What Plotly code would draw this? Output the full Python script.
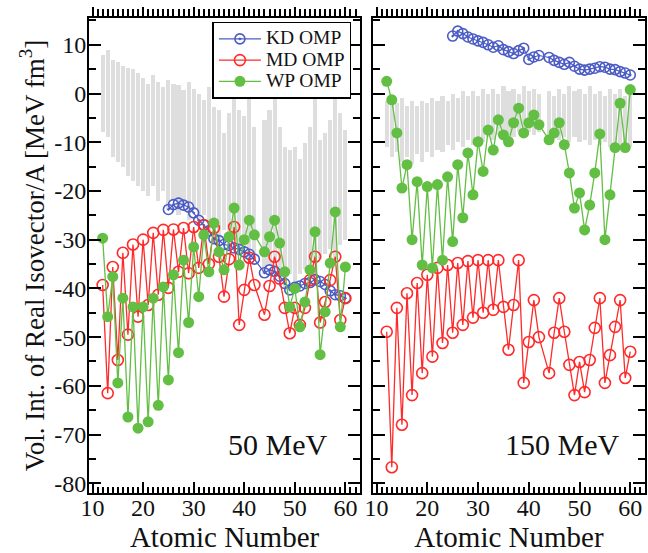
import plotly.graph_objects as go

FONT = "Liberation Serif, Times New Roman, Times, serif"
INK = "#111111"

# Nuclei (Tc, Z=43, is not included)
atomic_number = [12, 13, 14, 15, 16, 17, 18, 19, 20, 21, 22, 23, 24, 25, 26, 27,
                 28, 29, 30, 31, 32, 33, 34, 35, 36, 37, 38, 39, 40, 41, 42,
                 44, 45, 46, 47, 48, 49, 50, 51, 52, 53, 54, 55, 56, 57, 58, 59, 60]
kd_atomic_number = [25, 26, 27, 28, 29, 30, 31, 32, 33, 34, 35, 36, 37, 38, 39, 40, 41, 42,
                    44, 45, 46, 47, 48, 49, 50, 51, 52, 53, 54, 55, 56, 57, 58, 59, 60]

# 50 MeV
band_top_50 = [7.9, 9.0, 6.9, 6.5, 5.7, 5.3, 5.0, 4.2, 3.2, 2.0,
               3.8, 2.4, 1.4, 2.8, 2.0, 1.8, 0.8, 2.4, 1.0, -0.1,
               -1.3, 1.4, -2.7, -3.4, -8.1, -4.0, 0.8, -3.4, -4.7, -1.0,
               -6.8, -5.4, -3.4, -0.6, -6.8, -10.9, -11.6, -10.9, -13.5, -10.2,
               -6.8, 0.8, -9.5, -8.1, -5.4, 0.8, -4.0, -7.5]
band_bottom_50 = [-8, -9, -13, -14, -15, -17, -18, -19, -20, -21,
                  -19, -22, -20, -24, -22, -25, -23, -26, -24, -27,
                  -25, -28, -27, -30, -28, -32, -30, -33, -32, -35,
                  -34, -37, -35, -36, -38, -40, -37, -39, -37, -36,
                  -35, -38, -34, -33, -32, -34, -31, -30]
kd_50 = [-23.8, -22.8, -22.5, -22.9, -23.3, -24.5, -26.0, -27.0, -28.2, -29.8,
         -30.2, -31.0, -31.2, -31.7, -32.0, -32.5, -33.0, -34.0,
         -36.8, -36.2, -36.5, -37.5, -39.0, -40.3, -39.8, -39.5, -39.0, -38.8,
         -38.2, -38.6, -39.2, -40.5, -41.3, -41.5, -42.0]
md_50 = [-39.3, -61.5, -35.6, -54.7, -32.7, -49.5, -31.0, -45.8, -30.0, -43.4,
         -28.6, -41.3, -28.0, -39.9, -27.9, -36.6, -27.6, -36.9, -27.4, -35.8,
         -27.0, -35.0, -27.6, -33.5, -41.7, -34.0, -27.4, -47.5, -40.3, -33.7,
         -39.3, -45.4, -39.5, -33.5, -38.0, -44.0, -49.2, -44.0, -47.5, -44.0,
         -38.3, -33.5, -47.0, -42.8, -38.3, -33.5, -46.5, -42.0]
wp_50 = [-29.7, -45.8, -37.6, -59.4, -42.0, -66.4, -43.8, -68.7, -43.8, -67.4,
         -42.0, -64.0, -39.7, -58.8, -37.2, -53.2, -34.2, -47.0, -31.5, -41.7,
         -29.0, -36.6, -26.6, -32.5, -36.2, -29.4, -23.5, -35.2, -30.0, -26.0,
         -29.0, -32.5, -29.4, -26.0, -30.7, -36.6, -43.8, -40.0, -47.9, -42.8,
         -36.2, -28.4, -53.6, -44.8, -34.8, -24.3, -47.9, -35.6]

# 150 MeV
band_top_150 = [-1.5, -0.5, -2, -1, -2.5, -1.5, -2.5, -1.5, -2, -1,
                -1.5, -0.5, -1.5, 0, -1, 0.5, -0.5, 0.5, -0.5, 1,
                0, 1, 0, 1.5, 0.5, 1, 0, 1.5, 0.5, 1.0,
                0, 0.5, -0.5, 1, 0, 1.5, 0.5, 1, 0, 1.5,
                0, 0.5, -0.5, 1, 0, 1, -0.5, 0.5]
band_bottom_150 = [-11, -13, -12, -14, -13, -14.5, -12.5, -14, -12, -13,
                   -11.5, -12, -10.5, -11.5, -10, -11, -9.5, -10.5, -9, -10,
                   -9, -9.5, -8.5, -9.5, -8.5, -9, -8, -9, -8, -8.5,
                   -8, -9, -8.5, -9.5, -9, -10, -9, -10, -9.5, -10.5,
                   -9.5, -10.5, -10, -11, -10, -11, -10.5, -11]
kd_150 = [11.8, 12.8, 12.3, 11.6, 11.2, 10.8, 10.5, 10.0, 9.5, 9.8,
          9.0, 8.6, 8.2, 8.8, 9.3, 7.0, 7.5, 7.8,
          7.4, 6.8, 6.4, 6.0, 6.4, 5.6, 5.0, 4.8, 5.0, 5.2, 5.5, 5.4,
          5.0, 4.9, 4.5, 4.2, 3.8]
md_150 = [-48.9, -76.7, -44.0, -68.0, -41.0, -61.9, -38.9, -57.4, -37.2, -54.0,
          -35.8, -51.2, -35.2, -49.1, -34.8, -47.5, -34.4, -46.0, -34.2, -45.0,
          -34.2, -44.4, -34.2, -43.8, -52.6, -43.4, -34.2, -59.4, -51.0, -42.4,
          -50.0, -57.4, -49.1, -42.0, -48.9, -55.7, -61.9, -55.1, -61.3, -54.7,
          -48.1, -42.0, -59.4, -53.7, -47.9, -42.4, -58.4, -53.0]
wp_150 = [2.5, -1.3, -8.1, -19.4, -14.6, -30.0, -18.1, -35.2, -19.1, -35.8,
          -18.7, -34.2, -17.1, -30.4, -14.6, -25.5, -12.2, -20.8, -9.9, -16.0,
          -7.5, -11.6, -5.4, -8.5, -9.9, -6.0, -3.0, -8.1, -6.0, -4.4,
          -6.4, -9.5, -8.1, -6.0, -10.5, -16.3, -23.5, -20.4, -28.0, -22.9,
          -16.3, -8.3, -30.0, -20.8, -11.1, -2.0, -11.1, 0.8]

x_tick_values = [10, 20, 30, 40, 50, 60]
x_tick_labels = ["10", "20", "30", "40", "50", "60"]
y_tick_values = [10, 0, -10, -20, -30, -40, -50, -60, -70, -80]
y_tick_labels = ["10", "0", "-10", "-20", "-30", "-40", "-50", "-60", "-70", "-80"]
energy_labels = ["50 MeV", "150 MeV"]
series_names = ["KD OMP", "MD OMP", "WP OMP"]

KD_COLOR = "#4b5cc4"
MD_COLOR = "#ff2a2a"
WP_COLOR = "#62bf43"
BAND_COLOR = "#dedede"

X_RANGE = [9.3, 62.9]
Y_RANGE = [-82, 15.5]


def legend_label(name):
    # larger glyphs than the legend's base size keep the entries compact
    return '<span style="font-size:19.5px">' + name + "</span>"


fig = go.Figure()

# Each panel: the grey band sits on the base x axis, the model curves on the
# overlaid top axis so they are drawn above the band.
panels = [
    ("x", "x3", "y", band_top_50, band_bottom_50, kd_50, md_50, wp_50, True),
    ("x2", "x4", "y2", band_top_150, band_bottom_150, kd_150, md_150, wp_150, False),
]

for xa, xtop, ya, top, bottom, kd, md, wp, first in panels:
    fig.add_trace(go.Bar(
        x=atomic_number, y=[t - b for t, b in zip(top, bottom)], base=bottom,
        width=0.82, marker=dict(color=BAND_COLOR, line=dict(width=0)),
        showlegend=False, xaxis=xa, yaxis=ya, hoverinfo="skip"))
    fig.add_trace(go.Scatter(
        x=kd_atomic_number, y=kd, mode="lines+markers",
        name=legend_label(series_names[0]),
        line=dict(color=KD_COLOR, width=1.2),
        marker=dict(symbol="circle-open-dot", size=10, color=KD_COLOR,
                    line=dict(width=1.6, color=KD_COLOR)),
        showlegend=first, xaxis=xtop, yaxis=ya))
    fig.add_trace(go.Scatter(
        x=atomic_number, y=md, mode="lines+markers",
        name=legend_label(series_names[1]),
        line=dict(color=MD_COLOR, width=1.3),
        marker=dict(symbol="circle-open", size=11, color=MD_COLOR,
                    line=dict(width=1.6, color=MD_COLOR)),
        showlegend=first, xaxis=xtop, yaxis=ya))
    fig.add_trace(go.Scatter(
        x=atomic_number, y=wp, mode="lines+markers",
        name=legend_label(series_names[2]),
        line=dict(color=WP_COLOR, width=1.3),
        marker=dict(symbol="circle", size=11, color=WP_COLOR),
        showlegend=first, xaxis=xtop, yaxis=ya))

tick_font = dict(family=FONT, size=24, color=INK)


def x_axis(domain, anchor, title):
    return dict(
        domain=domain, anchor=anchor, range=X_RANGE,
        tickmode="array", tickvals=x_tick_values, ticktext=x_tick_labels,
        ticks="inside", ticklen=11, tickwidth=2, tickcolor="black",
        minor=dict(tickmode="linear", tick0=10, dtick=1, ticks="inside",
                   ticklen=6, tickwidth=1.5, tickcolor="black"),
        showline=True, linewidth=2, linecolor="black", mirror=True,
        showgrid=False, zeroline=False, tickfont=tick_font,
        ticklabelstandoff=-8,
        title=dict(text=title, font=dict(family=FONT, size=29, color=INK), standoff=0),
    )


def top_axis(overlay, anchor):
    return dict(
        overlaying=overlay, anchor=anchor, side="top", range=X_RANGE,
        tickmode="linear", tick0=10, dtick=10,
        ticks="outside", ticklen=10, tickwidth=2, tickcolor="black",
        minor=dict(tickmode="linear", tick0=10, dtick=1, ticks="outside",
                   ticklen=8, tickwidth=1.5, tickcolor="black"),
        showticklabels=False, showline=False, showgrid=False, zeroline=False,
    )


def y_axis(anchor, labels, title=None):
    d = dict(
        anchor=anchor, range=Y_RANGE,
        tickmode="array", tickvals=y_tick_values, ticktext=y_tick_labels,
        ticks="inside", ticklen=12, tickwidth=2, tickcolor="black",
        minor=dict(tickmode="linear", tick0=0, dtick=5, ticks="inside",
                   ticklen=7, tickwidth=2, tickcolor="black"),
        showline=True, linewidth=2, linecolor="black", mirror="ticks",
        showgrid=False, zeroline=False, tickfont=tick_font,
        showticklabels=labels, ticklabelstandoff=-4,
    )
    if title:
        d["title"] = dict(text=title, font=dict(family=FONT, size=27, color=INK), standoff=2)
    return d


left_dom = [0.0, 0.4875]
right_dom = [0.5108, 1.0]

fig.update_layout(
    width=648, height=553,
    margin=dict(l=89, r=1, t=18, b=60),
    paper_bgcolor="white", plot_bgcolor="white",
    barmode="overlay", bargap=0,
    font=dict(family=FONT, color=INK),
    xaxis=x_axis(left_dom, "y", "Atomic Number"),
    xaxis2=x_axis(right_dom, "y2", "Atomic Number"),
    xaxis3=top_axis("x", "y"),
    xaxis4=top_axis("x2", "y2"),
    yaxis=y_axis("x", True, "Vol. Int. of Real Isovector/A [MeV fm<sup>3</sup>]"),
    yaxis2=y_axis("x2", False),
    legend=dict(
        x=0.222, y=0.992, xanchor="left", yanchor="top",
        bgcolor="white", bordercolor="black", borderwidth=1.5,
        font=dict(family=FONT, size=14, color=INK),
        tracegroupgap=0, itemwidth=42,
    ),
    showlegend=True,
)

for (xref, yref), label in zip([("x", "y"), ("x2", "y2")], energy_labels):
    fig.add_annotation(
        x=46.5, y=-72, xref=xref, yref=yref, text=label, showarrow=False,
        xanchor="center", yanchor="middle",
        font=dict(family=FONT, size=30, color=INK))

fig.write_html("out.html")
